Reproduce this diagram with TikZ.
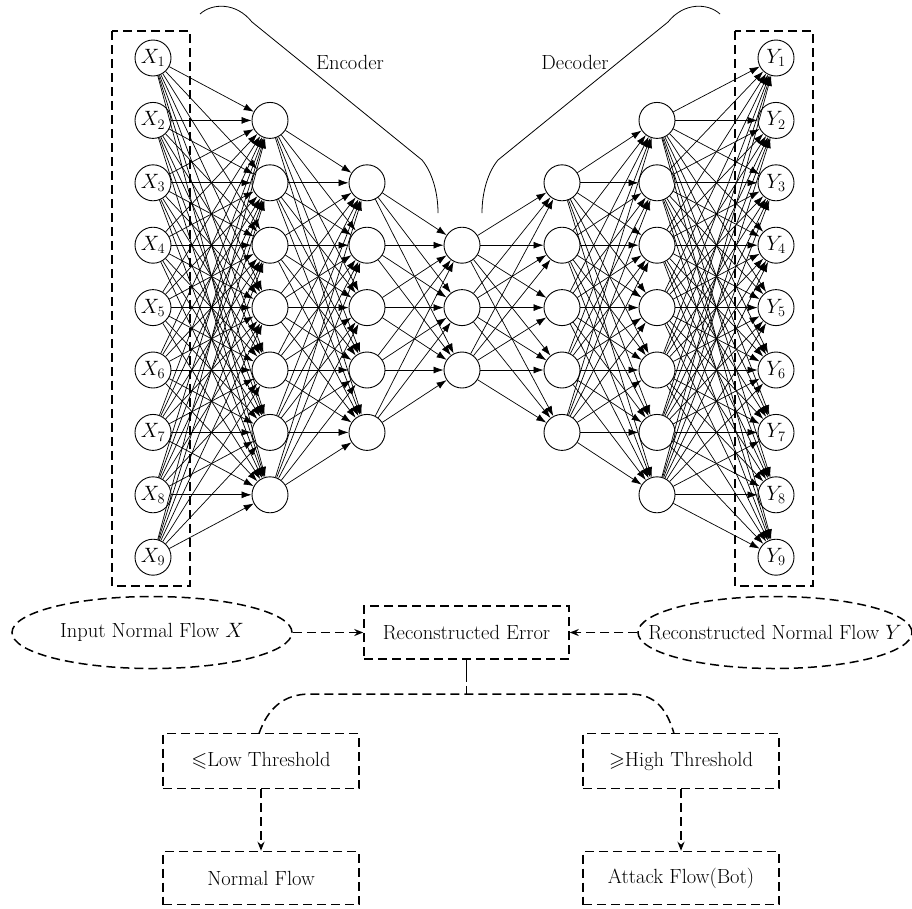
\documentclass[tikz,border=0pt]{standalone}
\usepackage{amssymb}
\usetikzlibrary{arrows.meta,shapes.geometric}
\begin{document}
\begin{tikzpicture}[x=1pt,y=-1pt,
  every node/.style={font=\fontsize{20.5}{24}\selectfont},
  neuron/.style={circle,draw,line width=0.9pt,minimum size=36pt,inner sep=0pt,font=\fontsize{20.74}{24}\selectfont},
  conn/.style={line width=0.7pt,-{Latex[length=10pt,width=7pt]}},
  dashbox/.style={draw,line width=1.5pt,dash pattern=on 9pt off 5pt,rectangle,inner sep=0pt},
  dashell/.style={draw,line width=1.5pt,dash pattern=on 9pt off 5pt,ellipse,inner sep=0pt},
  dline/.style={line width=1.5pt,dash pattern=on 9pt off 5pt},
  darr/.style={line width=1.5pt,dash pattern=on 9pt off 5pt,-{Stealth[length=9pt,width=7pt]}},
  brace/.style={line width=0.8pt}
]
\useasboundingbox (0,0) rectangle (912,908);

% layers
\foreach \i in {1,...,9}{\node[neuron] (x\i) at (153,{58+(\i-1)*62.4}) {$X_{\i}$};}
\foreach \i in {1,...,7}{\node[neuron] (a\i) at (270,{58+\i*62.4}) {};}
\foreach \i in {1,...,5}{\node[neuron] (b\i) at (367,{58+(\i+1)*62.4}) {};}
\foreach \i in {1,...,3}{\node[neuron] (c\i) at (462,{58+(\i+2)*62.4}) {};}
\foreach \i in {1,...,5}{\node[neuron] (d\i) at (562,{58+(\i+1)*62.4}) {};}
\foreach \i in {1,...,7}{\node[neuron] (e\i) at (657,{58+\i*62.4}) {};}
\foreach \i in {1,...,9}{\node[neuron] (y\i) at (776,{58+(\i-1)*62.4}) {$Y_{\i}$};}

% connections
\foreach \i in {1,...,9}{\foreach \j in {1,...,7}{\draw[conn] (x\i) -- (a\j);}}
\foreach \i in {1,...,7}{\foreach \j in {1,...,5}{\draw[conn] (a\i) -- (b\j);}}
\foreach \i in {1,...,5}{\foreach \j in {1,...,3}{\draw[conn] (b\i) -- (c\j);}}
\foreach \i in {1,...,3}{\foreach \j in {1,...,5}{\draw[conn] (c\i) -- (d\j);}}
\foreach \i in {1,...,5}{\foreach \j in {1,...,7}{\draw[conn] (d\i) -- (e\j);}}
\foreach \i in {1,...,7}{\foreach \j in {1,...,9}{\draw[conn] (e\i) -- (y\j);}}

% dashed frames
\draw[dline] (112,31) rectangle (190,586);
\draw[dline] (735,31) rectangle (813,586);

% encoder / decoder braces
\draw[brace] (200,14) .. controls (212,3) and (236,2) .. (252,22) -- (422,160) .. controls (432,172) and (438,192) .. (438,213);
\draw[brace] (482,213) .. controls (482,192) and (488,172) .. (498,160) -- (668,22) .. controls (684,2) and (708,3) .. (720,14);
\node (enc) at (350,62) {Encoder};
\node (dec) at (575,62) {Decoder};

% lower flowchart
\node[dashell,minimum width=280pt,minimum height=72pt] (inp) at (152,632.5) {};
\node (inptxt) at (inp.center) {Input Normal Flow $X$};
\node[dashell,minimum width=274pt,minimum height=72pt] (recy) at (775,632.5) {};
\node (recytxt) at (recy.center) {Reconstructed Normal Flow $Y$};
\node[dashbox,minimum width=205pt,minimum height=53pt] (err) at (466.5,632.5) {Reconstructed Error};
\draw[darr] (inp.east) -- (err.west);
\draw[darr] (recy.west) -- (err.east);

\node[dashbox,minimum width=196pt,minimum height=55pt] (low) at (261,761) {$\leqslant$Low Threshold};
\node[dashbox,minimum width=196pt,minimum height=55pt] (high) at (681,761) {$\geqslant$High Threshold};
\node[dashbox,minimum width=196pt,minimum height=53pt] (nf) at (261,878) {Normal Flow};
\node[dashbox,minimum width=196pt,minimum height=53pt] (af) at (681,878) {Attack Flow(Bot)};

\coordinate (j) at (466.5,694);
\draw[line width=1.5pt,dash pattern=on 22pt off 4pt] (err.south) -- (j);
\coordinate (lt) at (259,733.5);
\coordinate (ht) at (674,733.5);
\draw[dline] (lt) .. controls (268,708) and (284,694) .. (310,694) -- (630,694) .. controls (656,694) and (667,710) .. (ht);
\draw[darr] (low.south) -- (nf.north);
\draw[darr] (high.south) -- (af.north);
\end{tikzpicture}
\end{document}
